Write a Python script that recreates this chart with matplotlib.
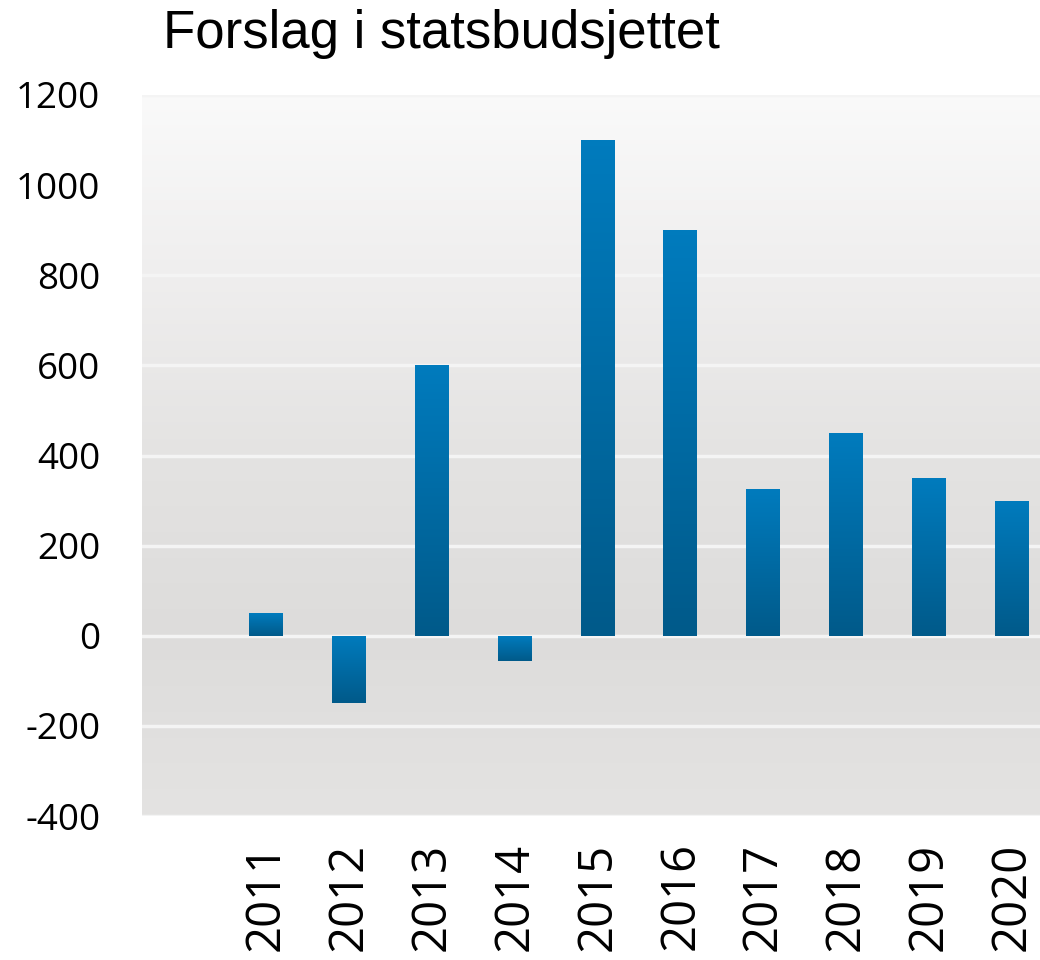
import numpy as np
import matplotlib
matplotlib.use('Agg')
import matplotlib.pyplot as plt
import matplotlib.colors as mcolors

plt.rcParams['axes.unicode_minus'] = False

years = ['2011', '2012', '2013', '2014', '2015', '2016', '2017', '2018', '2019', '2020']
values = [50, -150, 600, -55, 1100, 900, 325, 450, 350, 300]
yticks = [-400, -200, 0, 200, 400, 600, 800, 1000, 1200]
title = 'Forslag i statsbudsjettet'

fig = plt.figure(figsize=(10.4, 9.6), dpi=100)
ax = fig.add_axes([142/1040, 1 - 816/960, 1 - 142/1040, (816 - 95)/960])

x = np.arange(len(years))
ax.set_xlim(-1.5, 9.34)
ax.set_ylim(-400, 1200)

# background gradient: near white at top, grey towards the bottom
bg_cmap = mcolors.LinearSegmentedColormap.from_list(
    'bg', ['#fafafa', '#efeeee', '#e4e3e2', '#dddcdb', '#e4e3e2'])
ax.imshow(np.linspace(0, 1, 256).reshape(-1, 1), extent=[0, 1, 0, 1], transform=ax.transAxes,
          cmap=bg_cmap, aspect='auto', zorder=0, interpolation='bicubic')

for yt in yticks:
    ax.axhline(yt, color='#f4f4f4', lw=2.5, zorder=1)

bars = ax.bar(x, values, width=0.41, color='none', edgecolor='none', zorder=2)
bar_cmap = mcolors.LinearSegmentedColormap.from_list('bar', ['#005a8a', '#007bbd'])
for b in bars:
    x0, y0 = b.get_x(), b.get_y()
    w, h = b.get_width(), b.get_height()
    top, bot = max(y0, y0 + h), min(y0, y0 + h)
    im = ax.imshow(np.linspace(1, 0, 64).reshape(-1, 1), extent=[x0, x0 + w, bot, top],
                   cmap=bar_cmap, aspect='auto', zorder=3, interpolation='bilinear')
    im.set_clip_path(b)

ax.set_xlim(-1.5, 9.34)
ax.set_ylim(-400, 1200)
ax.set_xticks(x)
ax.set_xticklabels(years, rotation=90, fontfamily='Open Sans', fontsize=34)
ax.set_yticks(yticks)
ax.set_yticklabels([str(v) for v in yticks], fontfamily='Open Sans', fontsize=26.5)
ax.tick_params(axis='y', length=0, pad=30)
ax.tick_params(axis='x', length=0, pad=19)
for s in ax.spines.values():
    s.set_visible(False)

fig.text(163/1040, 1 - 48/960, title, fontfamily='Liberation Sans', fontsize=38,
         ha='left', va='baseline')

fig.savefig('out.png', dpi=100)
